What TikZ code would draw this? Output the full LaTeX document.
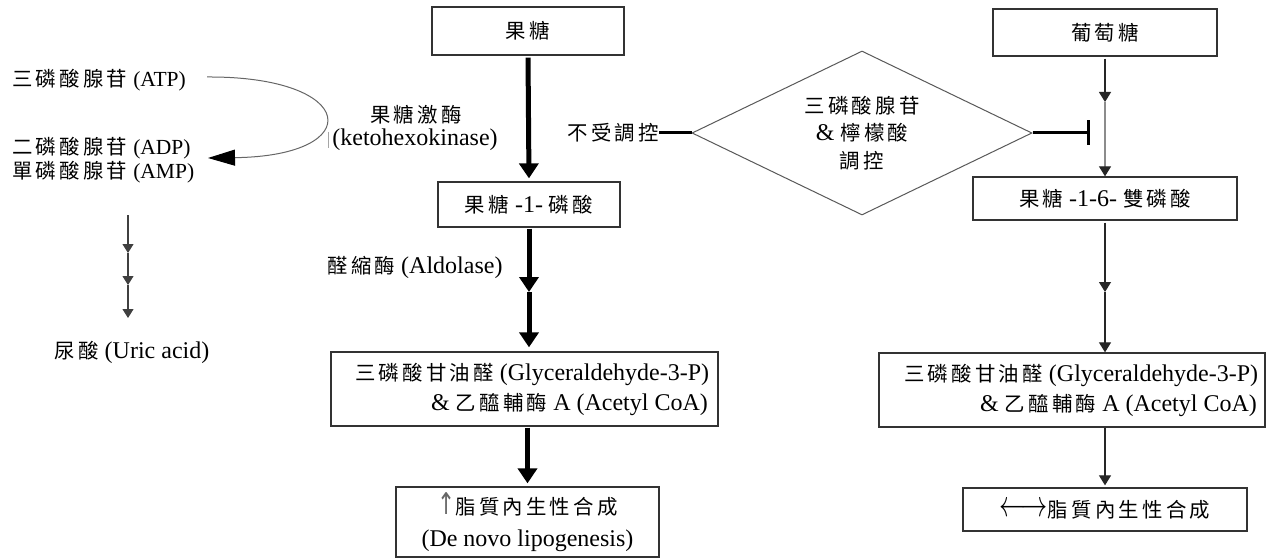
\documentclass[tikz,border=0pt]{standalone}
\usepackage{fontspec}
\setmainfont{Liberation Serif}
\newfontfamily\cjk{Noto Sans CJK TC}[Scale=0.85,LetterSpace=16]
\newfontfamily\dejavu{DejaVu Sans}
\usetikzlibrary{arrows.meta,shapes.geometric}
\newcommand\latsm[1]{{\fontsize{21.5}{26}\selectfont #1}}
\newcommand\zh[1]{{\cjk #1}}
\begin{document}
\begin{tikzpicture}[x=1pt,y=-1pt,font=\fontsize{24}{30}\selectfont,
  box/.style={draw=black!80,line width=1.3pt,inner sep=0pt,align=center},
  lbl/.style={inner sep=0pt,align=center},
  thickarr/.style={line width=5pt,black,-{Triangle[length=15pt,width=19pt]}},
  thinarr/.style={line width=1.2pt,black!85,-{Triangle[length=10pt,width=12pt]}},
  smallarr/.style={line width=1.1pt,black!75,-{Triangle[length=9pt,width=11pt]}},
  curvearr/.style={line width=1pt,black!60,-{Triangle[length=27pt,width=16pt,black]}},
  inhib/.style={line width=3pt,black,-{Bar[width=25pt]}},
  plainthick/.style={line width=3pt,black}]
\useasboundingbox (0,0) rectangle (1282,559);
\fill[white] (0,0) rectangle (1282,559);

% boxes
\node[box,minimum width=192pt,minimum height=48pt] (fru) at (528,31) {\zh{果糖}};
\node[box,minimum width=224pt,minimum height=47pt] (glc) at (1105,32.5) {\zh{葡萄糖}};
\node[box,minimum width=182pt,minimum height=45pt] (f1p) at (529,204.5) {\zh{果糖} -1- \zh{磷酸}};
\node[box,minimum width=264pt,minimum height=43pt] (f16) at (1105,198.5) {\zh{果糖} -1-6- \zh{雙磷酸}};
\node[box,minimum width=387pt,minimum height=74pt] (g3pL) at (524.5,389) {};
\node[lbl,align=left,anchor=west] (g3pLt) at (355,389)
  {\zh{三磷酸甘油醛} (Glyceraldehyde-3-P)\\\hspace*{76pt}\& \zh{乙醯輔酶} A (Acetyl CoA)};
\node[box,minimum width=386pt,minimum height=74pt] (g3pR) at (1072,390) {};
\node[lbl,align=left,anchor=west] (g3pRt) at (904,390)
  {\zh{三磷酸甘油醛} (Glyceraldehyde-3-P)\\\hspace*{76pt}\& \zh{乙醯輔酶} A (Acetyl CoA)};
\node[box,minimum width=263pt,minimum height=70pt,font=\fontsize{24}{32}\selectfont] (dnlL) at (527.5,522)
  {{\color{black!60}\dejavu\scalebox{0.9}[1.25]{↑}}\zh{脂質內生性合成}\\(De novo lipogenesis)};
\node[box,minimum width=284pt,minimum height=43pt] (dnlR) at (1105,509.5)
  {\raisebox{1pt}{\scalebox{1.05}[1.5]{$\longleftrightarrow$}}\zh{脂質內生性合成}};

% diamond
\node[diamond,draw=black!65,line width=1pt,inner sep=0pt,shape aspect=2.07,
  minimum width=340pt,minimum height=164pt,align=center,font=\fontsize{24}{27.5}\selectfont] (dia) at (862,133)
  {\zh{三磷酸腺苷}\\\& \zh{檸檬酸}\\\zh{調控}};

% left labels
\node[lbl,anchor=west] (atp) at (12,80) {\zh{三磷酸腺苷} \latsm{(ATP)}};
\node[lbl,anchor=west] (adp) at (12,148) {\zh{二磷酸腺苷} \latsm{(ADP)}};
\node[lbl,anchor=west] (amp) at (12,172) {\zh{單磷酸腺苷} \latsm{(AMP)}};
\node[lbl] (uric) at (132,352) {\zh{尿酸} (Uric acid)};
\node[lbl] (khk1) at (416,115) {\zh{果糖激酶}};
\node[lbl] (khk2) at (415,140) {(ketohexokinase)};
\node[lbl] (ald) at (415,267) {\zh{醛縮酶} (Aldolase)};
\node[lbl,anchor=east] (nc) at (659,133) {\zh{不受調控}};

% stray bar mark
\coordinate (bar1) at (328,132);
\coordinate (bar2) at (328,148);
\draw[line width=1pt,black!35] (bar1) -- (bar2);

% curved ATP arrow
\coordinate (c1) at (207,77);
\coordinate (c2) at (208,158);
\draw[curvearr] (c1) .. controls (358,76) and (368,156) .. (c2);

% left chain
\coordinate (l0) at (128,215);
\coordinate (l1) at (128,253);
\coordinate (l2) at (128,285);
\coordinate (l3) at (128,318);
\draw[smallarr] (l0) -- (l1);
\draw[smallarr] (l1) -- (l2);
\draw[smallarr] (l2) -- (l3);

% centre column
\draw[thickarr,shorten <=2pt,shorten >=3pt] (fru.south) -- (f1p.north);
\coordinate (m1) at (529,292);
\draw[thickarr,shorten <=1pt] (f1p.south) -- (m1);
\draw[thickarr,shorten >=4pt] (m1) -- (f1p.south |- g3pL.north);
\draw[thickarr,shorten <=1pt,shorten >=3pt] (dnlL.north |- g3pL.south) -- (dnlL.north);

% regulation
\draw[plainthick] (nc.east) -- (dia.west);
\coordinate (tb) at (1090,133);
\draw[inhib] (dia.east) -- (tb);

% right column
\coordinate (m2) at (1105,102);
\draw[thinarr,shorten <=2pt] (glc.south) -- (m2);
\draw[line width=1.1pt,black!45,-{Triangle[length=10pt,width=12pt,black!85]}] (m2) -- (f16.north);
\coordinate (m3) at (1105,292);
\draw[thinarr,shorten <=2pt] (f16.south) -- (m3);
\draw[thinarr] (m3) -- (f16.south |- g3pR.north);
\draw[thinarr,shorten >=2pt] (dnlR.north |- g3pR.south) -- (dnlR.north);
\end{tikzpicture}
\end{document}
